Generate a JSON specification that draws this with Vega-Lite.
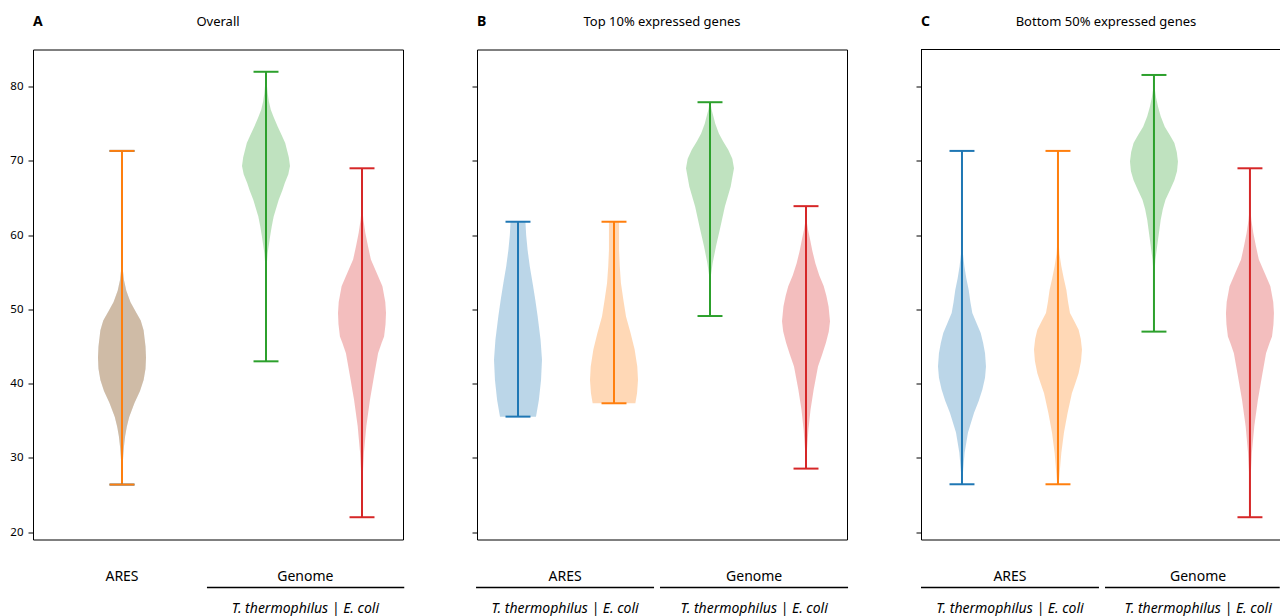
{
  "$schema": "https://vega.github.io/schema/vega-lite/v6.json",
  "padding": {"left": 9, "top": 13.5, "right": 0, "bottom": 0},
  "background": "white",
  "spacing": 74,
  "bounds": "flush",
  "config": {
    "font": "Noto Sans",
    "view": {"stroke": "black", "strokeWidth": 1},
    "axis": {"grid": false, "tickColor": "black", "domainColor": "black", "labelColor": "black", "tickWidth": 1, "domainWidth": 1},
    "axisY": {"domain": false, "tickSize": 5, "labelPadding": 5, "labelFontSize": 11.5},
    "axisX": {"domain": false, "ticks": false, "labels": false}
  },
  "datasets": {
    "headers": [
      {"panel": "A", "letter": "A", "title": "Overall"},
      {"panel": "B", "letter": "B", "title": "Top 10% expressed genes"},
      {"panel": "C", "letter": "C", "title": "Bottom 50% expressed genes"}
    ],
    "groups": [
      {"panel": "A", "group": "ARES", "sub": ""},
      {"panel": "A", "group": "Genome", "sub": "T. thermophilus | E. coli"},
      {"panel": "B", "group": "ARES", "sub": "T. thermophilus | E. coli"},
      {"panel": "B", "group": "Genome", "sub": "T. thermophilus | E. coli"},
      {"panel": "C", "group": "ARES", "sub": "T. thermophilus | E. coli"},
      {"panel": "C", "group": "Genome", "sub": "T. thermophilus | E. coli"}
    ],
    "violins": [
      {"panel":"A","series":"ARES_T","value":26.4,"density":0.005},
      {"panel":"A","series":"ARES_T","value":28.5,"density":0.02},
      {"panel":"A","series":"ARES_T","value":30.2,"density":0.05},
      {"panel":"A","series":"ARES_T","value":31.5,"density":0.08},
      {"panel":"A","series":"ARES_T","value":32.9,"density":0.13},
      {"panel":"A","series":"ARES_T","value":34.2,"density":0.2},
      {"panel":"A","series":"ARES_T","value":35.5,"density":0.3},
      {"panel":"A","series":"ARES_T","value":37.4,"density":0.52},
      {"panel":"A","series":"ARES_T","value":39,"density":0.75},
      {"panel":"A","series":"ARES_T","value":40.5,"density":0.9},
      {"panel":"A","series":"ARES_T","value":42,"density":0.98},
      {"panel":"A","series":"ARES_T","value":43.5,"density":1},
      {"panel":"A","series":"ARES_T","value":45,"density":0.98},
      {"panel":"A","series":"ARES_T","value":47.2,"density":0.9},
      {"panel":"A","series":"ARES_T","value":48.5,"density":0.78},
      {"panel":"A","series":"ARES_T","value":49.8,"density":0.55},
      {"panel":"A","series":"ARES_T","value":51,"density":0.35},
      {"panel":"A","series":"ARES_T","value":52.5,"density":0.18},
      {"panel":"A","series":"ARES_T","value":54,"density":0.08},
      {"panel":"A","series":"ARES_T","value":55.5,"density":0.03},
      {"panel":"A","series":"ARES_T","value":57.5,"density":0.012},
      {"panel":"A","series":"ARES_T","value":61,"density":0.006},
      {"panel":"A","series":"ARES_T","value":66,"density":0.003},
      {"panel":"A","series":"ARES_T","value":71.34,"density":0.002},
      {"panel":"A","series":"ARES_E","value":26.4,"density":0.005},
      {"panel":"A","series":"ARES_E","value":28.5,"density":0.02},
      {"panel":"A","series":"ARES_E","value":30.2,"density":0.05},
      {"panel":"A","series":"ARES_E","value":31.5,"density":0.08},
      {"panel":"A","series":"ARES_E","value":32.9,"density":0.13},
      {"panel":"A","series":"ARES_E","value":34.2,"density":0.2},
      {"panel":"A","series":"ARES_E","value":35.5,"density":0.3},
      {"panel":"A","series":"ARES_E","value":37.4,"density":0.52},
      {"panel":"A","series":"ARES_E","value":39,"density":0.75},
      {"panel":"A","series":"ARES_E","value":40.5,"density":0.9},
      {"panel":"A","series":"ARES_E","value":42,"density":0.98},
      {"panel":"A","series":"ARES_E","value":43.5,"density":1},
      {"panel":"A","series":"ARES_E","value":45,"density":0.98},
      {"panel":"A","series":"ARES_E","value":47.2,"density":0.9},
      {"panel":"A","series":"ARES_E","value":48.5,"density":0.78},
      {"panel":"A","series":"ARES_E","value":49.8,"density":0.55},
      {"panel":"A","series":"ARES_E","value":51,"density":0.35},
      {"panel":"A","series":"ARES_E","value":52.5,"density":0.18},
      {"panel":"A","series":"ARES_E","value":54,"density":0.08},
      {"panel":"A","series":"ARES_E","value":55.5,"density":0.03},
      {"panel":"A","series":"ARES_E","value":57.5,"density":0.012},
      {"panel":"A","series":"ARES_E","value":61,"density":0.006},
      {"panel":"A","series":"ARES_E","value":66,"density":0.003},
      {"panel":"A","series":"ARES_E","value":71.34,"density":0.002},
      {"panel":"A","series":"Genome_T","value":43,"density":0.001},
      {"panel":"A","series":"Genome_T","value":50,"density":0.002},
      {"panel":"A","series":"Genome_T","value":53,"density":0.005},
      {"panel":"A","series":"Genome_T","value":55.3,"density":0.015},
      {"panel":"A","series":"Genome_T","value":57.6,"density":0.07},
      {"panel":"A","series":"Genome_T","value":59.8,"density":0.17},
      {"panel":"A","series":"Genome_T","value":61.2,"density":0.24},
      {"panel":"A","series":"Genome_T","value":62.5,"density":0.32},
      {"panel":"A","series":"Genome_T","value":64.75,"density":0.53},
      {"panel":"A","series":"Genome_T","value":66,"density":0.68},
      {"panel":"A","series":"Genome_T","value":67,"density":0.78},
      {"panel":"A","series":"Genome_T","value":68.2,"density":0.93},
      {"panel":"A","series":"Genome_T","value":69.3,"density":1},
      {"panel":"A","series":"Genome_T","value":70.5,"density":0.95},
      {"panel":"A","series":"Genome_T","value":72.4,"density":0.8},
      {"panel":"A","series":"Genome_T","value":73.5,"density":0.65},
      {"panel":"A","series":"Genome_T","value":74.6,"density":0.49},
      {"panel":"A","series":"Genome_T","value":75.8,"density":0.33},
      {"panel":"A","series":"Genome_T","value":76.9,"density":0.2},
      {"panel":"A","series":"Genome_T","value":78,"density":0.12},
      {"panel":"A","series":"Genome_T","value":79.1,"density":0.07},
      {"panel":"A","series":"Genome_T","value":80.5,"density":0.03},
      {"panel":"A","series":"Genome_T","value":82,"density":0.01},
      {"panel":"A","series":"Genome_E","value":22,"density":0.003},
      {"panel":"A","series":"Genome_E","value":25.3,"density":0.01},
      {"panel":"A","series":"Genome_E","value":27.5,"density":0.03},
      {"panel":"A","series":"Genome_E","value":30.7,"density":0.08},
      {"panel":"A","series":"Genome_E","value":34.25,"density":0.18},
      {"panel":"A","series":"Genome_E","value":37.8,"density":0.33},
      {"panel":"A","series":"Genome_E","value":41,"density":0.5},
      {"panel":"A","series":"Genome_E","value":44.1,"density":0.67},
      {"panel":"A","series":"Genome_E","value":45.5,"density":0.82},
      {"panel":"A","series":"Genome_E","value":46.35,"density":0.92},
      {"panel":"A","series":"Genome_E","value":48,"density":0.98},
      {"panel":"A","series":"Genome_E","value":49.5,"density":1},
      {"panel":"A","series":"Genome_E","value":51,"density":0.97},
      {"panel":"A","series":"Genome_E","value":53.1,"density":0.85},
      {"panel":"A","series":"Genome_E","value":55,"density":0.6},
      {"panel":"A","series":"Genome_E","value":56.7,"density":0.37},
      {"panel":"A","series":"Genome_E","value":58.5,"density":0.25},
      {"panel":"A","series":"Genome_E","value":60.3,"density":0.14},
      {"panel":"A","series":"Genome_E","value":62,"density":0.06},
      {"panel":"A","series":"Genome_E","value":63.4,"density":0.02},
      {"panel":"A","series":"Genome_E","value":66,"density":0.005},
      {"panel":"A","series":"Genome_E","value":69,"density":0.002},
      {"panel":"B","series":"ARES_T","value":35.55,"density":0.75},
      {"panel":"B","series":"ARES_T","value":37.8,"density":0.87},
      {"panel":"B","series":"ARES_T","value":40.5,"density":0.96},
      {"panel":"B","series":"ARES_T","value":43.2,"density":1},
      {"panel":"B","series":"ARES_T","value":45.9,"density":0.94},
      {"panel":"B","series":"ARES_T","value":49.05,"density":0.82},
      {"panel":"B","series":"ARES_T","value":51.3,"density":0.72},
      {"panel":"B","series":"ARES_T","value":53.5,"density":0.61},
      {"panel":"B","series":"ARES_T","value":55.8,"density":0.49},
      {"panel":"B","series":"ARES_T","value":58,"density":0.4},
      {"panel":"B","series":"ARES_T","value":60,"density":0.34},
      {"panel":"B","series":"ARES_T","value":61.8,"density":0.31},
      {"panel":"B","series":"ARES_E","value":37.35,"density":0.89},
      {"panel":"B","series":"ARES_E","value":38.7,"density":0.96},
      {"panel":"B","series":"ARES_E","value":40.5,"density":1},
      {"panel":"B","series":"ARES_E","value":42.3,"density":0.97},
      {"panel":"B","series":"ARES_E","value":44.6,"density":0.86},
      {"panel":"B","series":"ARES_E","value":46.8,"density":0.69},
      {"panel":"B","series":"ARES_E","value":49.05,"density":0.5},
      {"panel":"B","series":"ARES_E","value":51.3,"density":0.39},
      {"panel":"B","series":"ARES_E","value":53.5,"density":0.29},
      {"panel":"B","series":"ARES_E","value":55.8,"density":0.24},
      {"panel":"B","series":"ARES_E","value":58,"density":0.21},
      {"panel":"B","series":"ARES_E","value":61.8,"density":0.21},
      {"panel":"B","series":"Genome_T","value":49.1,"density":0.001},
      {"panel":"B","series":"Genome_T","value":52.6,"density":0.005},
      {"panel":"B","series":"Genome_T","value":54.4,"density":0.03},
      {"panel":"B","series":"Genome_T","value":56.2,"density":0.11},
      {"panel":"B","series":"Genome_T","value":58.5,"density":0.25},
      {"panel":"B","series":"Genome_T","value":61.2,"density":0.44},
      {"panel":"B","series":"Genome_T","value":63.85,"density":0.62},
      {"panel":"B","series":"Genome_T","value":66.5,"density":0.86},
      {"panel":"B","series":"Genome_T","value":69,"density":1},
      {"panel":"B","series":"Genome_T","value":70.3,"density":0.93},
      {"panel":"B","series":"Genome_T","value":71.5,"density":0.76},
      {"panel":"B","series":"Genome_T","value":72.6,"density":0.55},
      {"panel":"B","series":"Genome_T","value":73.7,"density":0.37},
      {"panel":"B","series":"Genome_T","value":75,"density":0.22},
      {"panel":"B","series":"Genome_T","value":76,"density":0.14},
      {"panel":"B","series":"Genome_T","value":77,"density":0.06},
      {"panel":"B","series":"Genome_T","value":77.9,"density":0.02},
      {"panel":"B","series":"Genome_E","value":28.55,"density":0.01},
      {"panel":"B","series":"Genome_E","value":31.1,"density":0.04},
      {"panel":"B","series":"Genome_E","value":33.8,"density":0.1},
      {"panel":"B","series":"Genome_E","value":36.5,"density":0.19},
      {"panel":"B","series":"Genome_E","value":39.2,"density":0.32},
      {"panel":"B","series":"Genome_E","value":42.3,"density":0.5},
      {"panel":"B","series":"Genome_E","value":44,"density":0.68},
      {"panel":"B","series":"Genome_E","value":45.5,"density":0.83},
      {"panel":"B","series":"Genome_E","value":47,"density":0.95},
      {"panel":"B","series":"Genome_E","value":48.4,"density":1},
      {"panel":"B","series":"Genome_E","value":50.4,"density":0.94},
      {"panel":"B","series":"Genome_E","value":51.8,"density":0.85},
      {"panel":"B","series":"Genome_E","value":53.1,"density":0.74},
      {"panel":"B","series":"Genome_E","value":54.6,"density":0.55},
      {"panel":"B","series":"Genome_E","value":56.2,"density":0.39},
      {"panel":"B","series":"Genome_E","value":57.8,"density":0.27},
      {"panel":"B","series":"Genome_E","value":59.4,"density":0.17},
      {"panel":"B","series":"Genome_E","value":60.8,"density":0.08},
      {"panel":"B","series":"Genome_E","value":62.05,"density":0.02},
      {"panel":"B","series":"Genome_E","value":63.9,"density":0.005},
      {"panel":"C","series":"ARES_T","value":26.44,"density":0.01},
      {"panel":"C","series":"ARES_T","value":28,"density":0.04},
      {"panel":"C","series":"ARES_T","value":30.7,"density":0.11},
      {"panel":"C","series":"ARES_T","value":33.4,"density":0.25},
      {"panel":"C","series":"ARES_T","value":36.05,"density":0.5},
      {"panel":"C","series":"ARES_T","value":37.7,"density":0.7},
      {"panel":"C","series":"ARES_T","value":39.2,"density":0.85},
      {"panel":"C","series":"ARES_T","value":40.8,"density":0.96},
      {"panel":"C","series":"ARES_T","value":42.3,"density":1},
      {"panel":"C","series":"ARES_T","value":44.1,"density":0.96},
      {"panel":"C","series":"ARES_T","value":45.5,"density":0.88},
      {"panel":"C","series":"ARES_T","value":46.8,"density":0.78},
      {"panel":"C","series":"ARES_T","value":48.2,"density":0.6},
      {"panel":"C","series":"ARES_T","value":49.5,"density":0.43},
      {"panel":"C","series":"ARES_T","value":51,"density":0.35},
      {"panel":"C","series":"ARES_T","value":52.6,"density":0.28},
      {"panel":"C","series":"ARES_T","value":54.2,"density":0.18},
      {"panel":"C","series":"ARES_T","value":55.8,"density":0.1},
      {"panel":"C","series":"ARES_T","value":57.5,"density":0.04},
      {"panel":"C","series":"ARES_T","value":59.4,"density":0.01},
      {"panel":"C","series":"ARES_T","value":65,"density":0.003},
      {"panel":"C","series":"ARES_T","value":71.34,"density":0.002},
      {"panel":"C","series":"ARES_E","value":26.44,"density":0.03},
      {"panel":"C","series":"ARES_E","value":28,"density":0.07},
      {"panel":"C","series":"ARES_E","value":30.7,"density":0.14},
      {"panel":"C","series":"ARES_E","value":33.4,"density":0.25},
      {"panel":"C","series":"ARES_E","value":36.05,"density":0.4},
      {"panel":"C","series":"ARES_E","value":38.7,"density":0.58},
      {"panel":"C","series":"ARES_E","value":40,"density":0.72},
      {"panel":"C","series":"ARES_E","value":41.4,"density":0.86},
      {"panel":"C","series":"ARES_E","value":43,"density":0.96},
      {"panel":"C","series":"ARES_E","value":44.6,"density":1},
      {"panel":"C","series":"ARES_E","value":46,"density":0.95},
      {"panel":"C","series":"ARES_E","value":47.25,"density":0.86},
      {"panel":"C","series":"ARES_E","value":48.4,"density":0.68},
      {"panel":"C","series":"ARES_E","value":49.5,"density":0.5},
      {"panel":"C","series":"ARES_E","value":51,"density":0.42},
      {"panel":"C","series":"ARES_E","value":52.6,"density":0.35},
      {"panel":"C","series":"ARES_E","value":54.2,"density":0.24},
      {"panel":"C","series":"ARES_E","value":55.8,"density":0.14},
      {"panel":"C","series":"ARES_E","value":57.5,"density":0.06},
      {"panel":"C","series":"ARES_E","value":59.4,"density":0.02},
      {"panel":"C","series":"ARES_E","value":65,"density":0.005},
      {"panel":"C","series":"ARES_E","value":71.34,"density":0.003},
      {"panel":"C","series":"Genome_T","value":47,"density":0.001},
      {"panel":"C","series":"Genome_T","value":52,"density":0.003},
      {"panel":"C","series":"Genome_T","value":54.4,"density":0.01},
      {"panel":"C","series":"Genome_T","value":56.7,"density":0.06},
      {"panel":"C","series":"Genome_T","value":59.4,"density":0.17},
      {"panel":"C","series":"Genome_T","value":62.05,"density":0.28},
      {"panel":"C","series":"Genome_T","value":63.5,"density":0.37},
      {"panel":"C","series":"Genome_T","value":64.75,"density":0.48},
      {"panel":"C","series":"Genome_T","value":66,"density":0.66},
      {"panel":"C","series":"Genome_T","value":67.4,"density":0.85},
      {"panel":"C","series":"Genome_T","value":68.6,"density":0.96},
      {"panel":"C","series":"Genome_T","value":69.9,"density":1},
      {"panel":"C","series":"Genome_T","value":71.2,"density":0.95},
      {"panel":"C","series":"Genome_T","value":72.4,"density":0.85},
      {"panel":"C","series":"Genome_T","value":73.5,"density":0.66},
      {"panel":"C","series":"Genome_T","value":74.6,"density":0.45},
      {"panel":"C","series":"Genome_T","value":76,"density":0.28},
      {"panel":"C","series":"Genome_T","value":77.3,"density":0.17},
      {"panel":"C","series":"Genome_T","value":78.5,"density":0.09},
      {"panel":"C","series":"Genome_T","value":79.55,"density":0.04},
      {"panel":"C","series":"Genome_T","value":80.6,"density":0.015},
      {"panel":"C","series":"Genome_T","value":81.57,"density":0.005},
      {"panel":"C","series":"Genome_E","value":22,"density":0.003},
      {"panel":"C","series":"Genome_E","value":25.3,"density":0.01},
      {"panel":"C","series":"Genome_E","value":27.5,"density":0.03},
      {"panel":"C","series":"Genome_E","value":30.7,"density":0.08},
      {"panel":"C","series":"Genome_E","value":34.25,"density":0.18},
      {"panel":"C","series":"Genome_E","value":37.8,"density":0.33},
      {"panel":"C","series":"Genome_E","value":41,"density":0.5},
      {"panel":"C","series":"Genome_E","value":44.1,"density":0.67},
      {"panel":"C","series":"Genome_E","value":45.5,"density":0.82},
      {"panel":"C","series":"Genome_E","value":46.35,"density":0.92},
      {"panel":"C","series":"Genome_E","value":48,"density":0.98},
      {"panel":"C","series":"Genome_E","value":49.5,"density":1},
      {"panel":"C","series":"Genome_E","value":51,"density":0.97},
      {"panel":"C","series":"Genome_E","value":53.1,"density":0.85},
      {"panel":"C","series":"Genome_E","value":55,"density":0.6},
      {"panel":"C","series":"Genome_E","value":56.7,"density":0.37},
      {"panel":"C","series":"Genome_E","value":58.5,"density":0.25},
      {"panel":"C","series":"Genome_E","value":60.3,"density":0.14},
      {"panel":"C","series":"Genome_E","value":62,"density":0.06},
      {"panel":"C","series":"Genome_E","value":63.4,"density":0.02},
      {"panel":"C","series":"Genome_E","value":66,"density":0.005},
      {"panel":"C","series":"Genome_E","value":69,"density":0.002}
    ]
  },
  "hconcat": [
    {
      "width": 370,
      "height": 490,
      "layer": [
        {
          "data": {"name": "violins"},
          "transform": [
            {"filter": "datum.panel === 'A'"},
            {"calculate": "datum.series === 'Genome_T' ? 2.5 : datum.series === 'Genome_E' ? 3.5 : 1", "as": "pos"},
            {"calculate": "datum.pos - 0.25 * datum.density", "as": "lo"},
            {"calculate": "datum.pos + 0.25 * datum.density", "as": "hi"}
          ],
          "mark": {"type": "area", "orient": "horizontal", "fillOpacity": 0.3},
          "encoding": {
            "y": {"field": "value", "type": "quantitative", "title": null, "scale": {"domain": [19, 85], "nice": false, "zero": false}, "axis": {"values": [20, 30, 40, 50, 60, 70, 80], "title": null}},
            "x": {"field": "lo", "type": "quantitative", "title": null, "scale": {"domain": [0.073, 3.927], "nice": false, "zero": false}, "axis": null},
            "x2": {"field": "hi"},
            "color": {"field": "series", "type": "nominal", "scale": {"domain": ["ARES_T", "ARES_E", "Genome_T", "Genome_E"], "range": ["#1f77b4", "#ff7f0e", "#2ca02c", "#d62728"]}, "legend": null}
          }
        },
        {
          "data": {"name": "violins"},
          "transform": [
            {"filter": "datum.panel === 'A'"},
            {"aggregate": [{"op": "min", "field": "value", "as": "low"}, {"op": "max", "field": "value", "as": "high"}], "groupby": ["series"]},
            {"calculate": "datum.series === 'Genome_T' ? 2.5 : datum.series === 'Genome_E' ? 3.5 : 1", "as": "pos"}
          ],
          "mark": {"type": "rule", "strokeWidth": 2},
          "encoding": {
            "x": {"field": "pos", "type": "quantitative", "title": null, "axis": null},
            "y": {"field": "low", "type": "quantitative", "title": null},
            "y2": {"field": "high"},
            "color": {"field": "series", "type": "nominal", "scale": {"domain": ["ARES_T", "ARES_E", "Genome_T", "Genome_E"], "range": ["#1f77b4", "#ff7f0e", "#2ca02c", "#d62728"]}, "legend": null}
          }
        },
        {
          "data": {"name": "violins"},
          "transform": [
            {"filter": "datum.panel === 'A'"},
            {"aggregate": [{"op": "min", "field": "value", "as": "low"}, {"op": "max", "field": "value", "as": "high"}], "groupby": ["series"]},
            {"calculate": "datum.series === 'Genome_T' ? 2.5 : datum.series === 'Genome_E' ? 3.5 : 1", "as": "pos"},
            {"fold": ["low", "high"], "as": ["end", "level"]},
            {"calculate": "datum.pos - 0.13", "as": "c0"},
            {"calculate": "datum.pos + 0.13", "as": "c1"}
          ],
          "mark": {"type": "rule", "strokeWidth": 2},
          "encoding": {
            "x": {"field": "c0", "type": "quantitative", "title": null, "axis": null},
            "x2": {"field": "c1"},
            "y": {"field": "level", "type": "quantitative", "title": null},
            "color": {"field": "series", "type": "nominal", "scale": {"domain": ["ARES_T", "ARES_E", "Genome_T", "Genome_E"], "range": ["#1f77b4", "#ff7f0e", "#2ca02c", "#d62728"]}, "legend": null}
          }
        },
        {
          "data": {"name": "groups"},
          "transform": [
            {"filter": "datum.panel === 'A'"},
            {"calculate": "datum.group === 'ARES' ? 1 : 2.91", "as": "center"}
          ],
          "mark": {"type": "text", "fontSize": 14, "baseline": "alphabetic", "dy": 41, "color": "black", "clip": false},
          "encoding": {
            "x": {"field": "center", "type": "quantitative", "title": null, "axis": null},
            "y": {"datum": 19},
            "text": {"field": "group"}
          }
        },
        {
          "data": {"name": "groups"},
          "transform": [
            {"filter": "datum.panel === 'A' && datum.sub !== ''"},
            {"calculate": "datum.group === 'ARES' ? 1 : 2.91", "as": "center"}
          ],
          "mark": {"type": "text", "fontSize": 14, "fontStyle": "italic", "baseline": "alphabetic", "dy": 73, "color": "black", "clip": false},
          "encoding": {
            "x": {"field": "center", "type": "quantitative", "title": null, "axis": null},
            "y": {"datum": 19},
            "text": {"field": "sub"}
          }
        },
        {
          "data": {"name": "groups"},
          "transform": [
            {"filter": "datum.panel === 'A' && datum.sub !== ''"},
            {"calculate": "1.885", "as": "start"},
            {"calculate": "3.94", "as": "end"}
          ],
          "mark": {"type": "rule", "color": "black", "strokeWidth": 1.5, "yOffset": 48, "clip": false},
          "encoding": {
            "x": {"field": "start", "type": "quantitative", "title": null, "axis": null},
            "x2": {"field": "end"},
            "y": {"datum": 19}
          }
        },
        {
          "data": {"name": "headers"},
          "transform": [{"filter": "datum.panel === 'A'"}],
          "mark": {"type": "text", "fontSize": 14, "fontWeight": "bold", "align": "left", "baseline": "alphabetic", "dy": -24, "color": "black", "clip": false},
          "encoding": {
            "x": {"datum": 0.073},
            "y": {"datum": 85},
            "text": {"field": "letter"}
          }
        },
        {
          "data": {"name": "headers"},
          "transform": [{"filter": "datum.panel === 'A'"}],
          "mark": {"type": "text", "fontSize": 13, "align": "center", "baseline": "alphabetic", "dy": -24, "color": "black", "clip": false},
          "encoding": {
            "x": {"datum": 2.0},
            "y": {"datum": 85},
            "text": {"field": "title"}
          }
        }
      ]
    },
    {
      "width": 370,
      "height": 490,
      "layer": [
        {
          "data": {"name": "violins"},
          "transform": [
            {"filter": "datum.panel === 'B'"},
            {"calculate": "datum.series === 'ARES_T' ? 1 : datum.series === 'ARES_E' ? 2 : datum.series === 'Genome_T' ? 3 : 4", "as": "pos"},
            {"calculate": "datum.pos - 0.25 * datum.density", "as": "lo"},
            {"calculate": "datum.pos + 0.25 * datum.density", "as": "hi"}
          ],
          "mark": {"type": "area", "orient": "horizontal", "fillOpacity": 0.3},
          "encoding": {
            "y": {"field": "value", "type": "quantitative", "title": null, "scale": {"domain": [19, 85], "nice": false, "zero": false}, "axis": {"values": [20, 30, 40, 50, 60, 70, 80], "labels": false, "title": null}},
            "x": {"field": "lo", "type": "quantitative", "title": null, "scale": {"domain": [0.573, 4.427], "nice": false, "zero": false}, "axis": null},
            "x2": {"field": "hi"},
            "color": {"field": "series", "type": "nominal", "scale": {"domain": ["ARES_T", "ARES_E", "Genome_T", "Genome_E"], "range": ["#1f77b4", "#ff7f0e", "#2ca02c", "#d62728"]}, "legend": null}
          }
        },
        {
          "data": {"name": "violins"},
          "transform": [
            {"filter": "datum.panel === 'B'"},
            {"aggregate": [{"op": "min", "field": "value", "as": "low"}, {"op": "max", "field": "value", "as": "high"}], "groupby": ["series"]},
            {"calculate": "datum.series === 'ARES_T' ? 1 : datum.series === 'ARES_E' ? 2 : datum.series === 'Genome_T' ? 3 : 4", "as": "pos"}
          ],
          "mark": {"type": "rule", "strokeWidth": 2},
          "encoding": {
            "x": {"field": "pos", "type": "quantitative", "title": null, "axis": null},
            "y": {"field": "low", "type": "quantitative", "title": null},
            "y2": {"field": "high"},
            "color": {"field": "series", "type": "nominal", "scale": {"domain": ["ARES_T", "ARES_E", "Genome_T", "Genome_E"], "range": ["#1f77b4", "#ff7f0e", "#2ca02c", "#d62728"]}, "legend": null}
          }
        },
        {
          "data": {"name": "violins"},
          "transform": [
            {"filter": "datum.panel === 'B'"},
            {"aggregate": [{"op": "min", "field": "value", "as": "low"}, {"op": "max", "field": "value", "as": "high"}], "groupby": ["series"]},
            {"calculate": "datum.series === 'ARES_T' ? 1 : datum.series === 'ARES_E' ? 2 : datum.series === 'Genome_T' ? 3 : 4", "as": "pos"},
            {"fold": ["low", "high"], "as": ["end", "level"]},
            {"calculate": "datum.pos - 0.13", "as": "c0"},
            {"calculate": "datum.pos + 0.13", "as": "c1"}
          ],
          "mark": {"type": "rule", "strokeWidth": 2},
          "encoding": {
            "x": {"field": "c0", "type": "quantitative", "title": null, "axis": null},
            "x2": {"field": "c1"},
            "y": {"field": "level", "type": "quantitative", "title": null},
            "color": {"field": "series", "type": "nominal", "scale": {"domain": ["ARES_T", "ARES_E", "Genome_T", "Genome_E"], "range": ["#1f77b4", "#ff7f0e", "#2ca02c", "#d62728"]}, "legend": null}
          }
        },
        {
          "data": {"name": "groups"},
          "transform": [
            {"filter": "datum.panel === 'B'"},
            {"calculate": "datum.group === 'ARES' ? 1.49 : 3.46", "as": "center"}
          ],
          "mark": {"type": "text", "fontSize": 14, "baseline": "alphabetic", "dy": 41, "color": "black", "clip": false},
          "encoding": {
            "x": {"field": "center", "type": "quantitative", "title": null, "axis": null},
            "y": {"datum": 19},
            "text": {"field": "group"}
          }
        },
        {
          "data": {"name": "groups"},
          "transform": [
            {"filter": "datum.panel === 'B' && datum.sub !== ''"},
            {"calculate": "datum.group === 'ARES' ? 1.49 : 3.46", "as": "center"}
          ],
          "mark": {"type": "text", "fontSize": 14, "fontStyle": "italic", "baseline": "alphabetic", "dy": 73, "color": "black", "clip": false},
          "encoding": {
            "x": {"field": "center", "type": "quantitative", "title": null, "axis": null},
            "y": {"datum": 19},
            "text": {"field": "sub"}
          }
        },
        {
          "data": {"name": "groups"},
          "transform": [
            {"filter": "datum.panel === 'B' && datum.sub !== ''"},
            {"calculate": "datum.group === 'ARES' ? 0.563 : 2.479", "as": "start"},
            {"calculate": "datum.group === 'ARES' ? 2.417 : 4.438", "as": "end"}
          ],
          "mark": {"type": "rule", "color": "black", "strokeWidth": 1.5, "yOffset": 48, "clip": false},
          "encoding": {
            "x": {"field": "start", "type": "quantitative", "title": null, "axis": null},
            "x2": {"field": "end"},
            "y": {"datum": 19}
          }
        },
        {
          "data": {"name": "headers"},
          "transform": [{"filter": "datum.panel === 'B'"}],
          "mark": {"type": "text", "fontSize": 14, "fontWeight": "bold", "align": "left", "baseline": "alphabetic", "dy": -24, "color": "black", "clip": false},
          "encoding": {
            "x": {"datum": 0.573},
            "y": {"datum": 85},
            "text": {"field": "letter"}
          }
        },
        {
          "data": {"name": "headers"},
          "transform": [{"filter": "datum.panel === 'B'"}],
          "mark": {"type": "text", "fontSize": 13, "align": "center", "baseline": "alphabetic", "dy": -24, "color": "black", "clip": false},
          "encoding": {
            "x": {"datum": 2.5},
            "y": {"datum": 85},
            "text": {"field": "title"}
          }
        }
      ]
    },
    {
      "width": 359,
      "height": 490,
      "view": {"stroke": null},
      "layer": [
        {
          "data": {"name": "violins"},
          "transform": [
            {"filter": "datum.panel === 'C'"},
            {"calculate": "datum.series === 'ARES_T' ? 1 : datum.series === 'ARES_E' ? 2 : datum.series === 'Genome_T' ? 3 : 4", "as": "pos"},
            {"calculate": "datum.pos - 0.25 * datum.density", "as": "lo"},
            {"calculate": "datum.pos + 0.25 * datum.density", "as": "hi"}
          ],
          "mark": {"type": "area", "orient": "horizontal", "fillOpacity": 0.3},
          "encoding": {
            "y": {"field": "value", "type": "quantitative", "title": null, "scale": {"domain": [19, 85], "nice": false, "zero": false}, "axis": {"values": [20, 30, 40, 50, 60, 70, 80], "labels": false, "domain": true, "title": null}},
            "x": {"field": "lo", "type": "quantitative", "title": null, "scale": {"domain": [0.573, 4.313], "nice": false, "zero": false}, "axis": {"domain": true, "ticks": false, "labels": false, "title": null}},
            "x2": {"field": "hi"},
            "color": {"field": "series", "type": "nominal", "scale": {"domain": ["ARES_T", "ARES_E", "Genome_T", "Genome_E"], "range": ["#1f77b4", "#ff7f0e", "#2ca02c", "#d62728"]}, "legend": null}
          }
        },
        {
          "data": {"name": "violins"},
          "transform": [
            {"filter": "datum.panel === 'C'"},
            {"aggregate": [{"op": "min", "field": "value", "as": "low"}, {"op": "max", "field": "value", "as": "high"}], "groupby": ["series"]},
            {"calculate": "datum.series === 'ARES_T' ? 1 : datum.series === 'ARES_E' ? 2 : datum.series === 'Genome_T' ? 3 : 4", "as": "pos"}
          ],
          "mark": {"type": "rule", "strokeWidth": 2},
          "encoding": {
            "x": {"field": "pos", "type": "quantitative", "title": null},
            "y": {"field": "low", "type": "quantitative", "title": null},
            "y2": {"field": "high"},
            "color": {"field": "series", "type": "nominal", "scale": {"domain": ["ARES_T", "ARES_E", "Genome_T", "Genome_E"], "range": ["#1f77b4", "#ff7f0e", "#2ca02c", "#d62728"]}, "legend": null}
          }
        },
        {
          "data": {"name": "violins"},
          "transform": [
            {"filter": "datum.panel === 'C'"},
            {"aggregate": [{"op": "min", "field": "value", "as": "low"}, {"op": "max", "field": "value", "as": "high"}], "groupby": ["series"]},
            {"calculate": "datum.series === 'ARES_T' ? 1 : datum.series === 'ARES_E' ? 2 : datum.series === 'Genome_T' ? 3 : 4", "as": "pos"},
            {"fold": ["low", "high"], "as": ["end", "level"]},
            {"calculate": "datum.pos - 0.13", "as": "c0"},
            {"calculate": "datum.pos + 0.13", "as": "c1"}
          ],
          "mark": {"type": "rule", "strokeWidth": 2},
          "encoding": {
            "x": {"field": "c0", "type": "quantitative", "title": null},
            "x2": {"field": "c1"},
            "y": {"field": "level", "type": "quantitative", "title": null},
            "color": {"field": "series", "type": "nominal", "scale": {"domain": ["ARES_T", "ARES_E", "Genome_T", "Genome_E"], "range": ["#1f77b4", "#ff7f0e", "#2ca02c", "#d62728"]}, "legend": null}
          }
        },
        {
          "data": {"values": [{"edge": "top"}]},
          "mark": {"type": "rule", "color": "black", "strokeWidth": 1},
          "encoding": {"y": {"datum": 85}}
        },
        {
          "data": {"name": "groups"},
          "transform": [
            {"filter": "datum.panel === 'C'"},
            {"calculate": "datum.group === 'ARES' ? 1.5 : 3.46", "as": "center"}
          ],
          "mark": {"type": "text", "fontSize": 14, "baseline": "alphabetic", "dy": 41, "color": "black", "clip": false},
          "encoding": {
            "x": {"field": "center", "type": "quantitative", "title": null},
            "y": {"datum": 19},
            "text": {"field": "group"}
          }
        },
        {
          "data": {"name": "groups"},
          "transform": [
            {"filter": "datum.panel === 'C' && datum.sub !== ''"},
            {"calculate": "datum.group === 'ARES' ? 1.5 : 3.46", "as": "center"}
          ],
          "mark": {"type": "text", "fontSize": 14, "fontStyle": "italic", "baseline": "alphabetic", "dy": 73, "color": "black", "clip": false},
          "encoding": {
            "x": {"field": "center", "type": "quantitative", "title": null},
            "y": {"datum": 19},
            "text": {"field": "sub"}
          }
        },
        {
          "data": {"name": "groups"},
          "transform": [
            {"filter": "datum.panel === 'C' && datum.sub !== ''"},
            {"calculate": "datum.group === 'ARES' ? 0.573 : 2.49", "as": "start"},
            {"calculate": "datum.group === 'ARES' ? 2.427 : 4.31", "as": "end"}
          ],
          "mark": {"type": "rule", "color": "black", "strokeWidth": 1.5, "yOffset": 48, "clip": false},
          "encoding": {
            "x": {"field": "start", "type": "quantitative", "title": null},
            "x2": {"field": "end"},
            "y": {"datum": 19}
          }
        },
        {
          "data": {"name": "headers"},
          "transform": [{"filter": "datum.panel === 'C'"}],
          "mark": {"type": "text", "fontSize": 14, "fontWeight": "bold", "align": "left", "baseline": "alphabetic", "dy": -24, "color": "black", "clip": false},
          "encoding": {
            "x": {"datum": 0.573},
            "y": {"datum": 85},
            "text": {"field": "letter"}
          }
        },
        {
          "data": {"name": "headers"},
          "transform": [{"filter": "datum.panel === 'C'"}],
          "mark": {"type": "text", "fontSize": 13, "align": "center", "baseline": "alphabetic", "dy": -24, "color": "black", "clip": false},
          "encoding": {
            "x": {"datum": 2.5},
            "y": {"datum": 85},
            "text": {"field": "title"}
          }
        }
      ]
    }
  ]
}
